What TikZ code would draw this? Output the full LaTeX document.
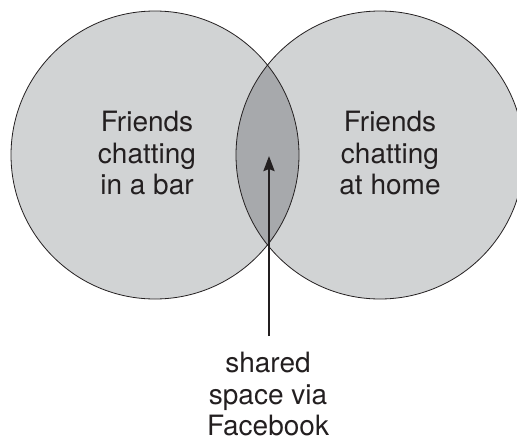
\documentclass[tikz,border=0pt]{standalone}
\usepackage{fontspec}
\setmainfont{TeX Gyre Heros}
\usetikzlibrary{arrows.meta}
\definecolor{circfill}{RGB}{209,211,212}
\definecolor{lensfill}{RGB}{167,169,172}
\definecolor{inkc}{RGB}{35,31,32}
\tikzset{
  lbl/.style={align=center, inner sep=0pt, anchor=north, text=inkc,
    font=\fontsize{28}{31.5}\selectfont},
  outline/.style={draw=inkc, line width=0.8pt},
  pointer/.style={draw=inkc, line width=2.4pt, -{Stealth[length=15pt,width=11pt,inset=2pt]}}
}
\begin{document}
\begin{tikzpicture}[x=1pt,y=-1pt]
\useasboundingbox (0,0) rectangle (517,442);
\coordinate (cl) at (155,155);
\coordinate (cr) at (380,155);
\fill[circfill] (cl) circle[radius=144];
\fill[circfill] (cr) circle[radius=144];
\begin{scope}
  \clip (cl) circle[radius=144];
  \fill[lensfill] (cr) circle[radius=144];
\end{scope}
\draw[outline] (cl) circle[radius=144];
\draw[outline] (cr) circle[radius=144];
\node[lbl] (bar) at (147,111) {Friends\\chatting\\in a bar};
\node[lbl] (home) at (390,111) {Friends\\chatting\\at home};
\node[lbl] (fb) at (268,352) {shared\\space via\\Facebook};
\coordinate (tail) at (269,336);
\coordinate (tip) at (269,156);
\draw[pointer] (tail) -- (tip);
\end{tikzpicture}
\end{document}
